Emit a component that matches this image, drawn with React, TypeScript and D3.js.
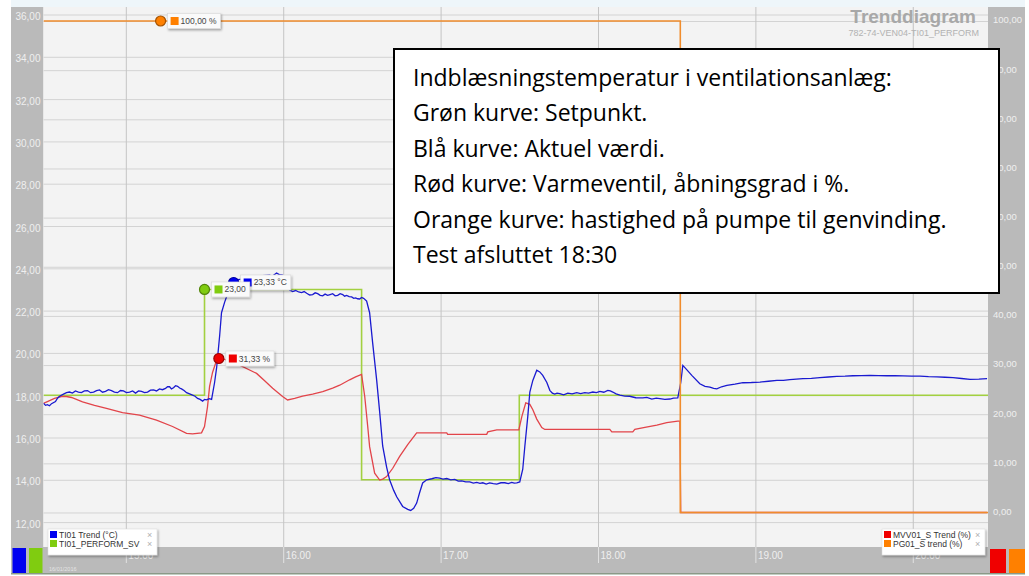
import React, { useEffect, useRef } from 'react';
import * as d3 from 'd3';

const W = 1029;
const H = 576;

// time is hour of day (decimal), 16/01/2016
const hourTicks = [15, 16, 17, 18, 19, 20];
const tempTicks = [12, 14, 16, 18, 20, 22, 24, 26, 28, 30, 32, 34, 36];
const pctTicks = [0, 10, 20, 30, 40, 50, 60, 70, 80, 90, 100];

// TI01 Trend (°C)
const tempTrend: [number, number][] = [
  [14.477, 17.62], [14.49, 17.52], [14.502, 17.55], [14.515, 17.5], [14.528, 17.6], [14.553, 17.7],
  [14.566, 17.86], [14.579, 17.95], [14.604, 18.05], [14.623, 18.12], [14.642, 18.15], [14.661, 18.1],
  [14.68, 18.2], [14.699, 18.15], [14.718, 18.12], [14.737, 18.2], [14.757, 18.22], [14.776, 18.12],
  [14.795, 18.15], [14.814, 18.22], [14.833, 18.25], [14.852, 18.14], [14.871, 18.18], [14.89, 18.26],
  [14.909, 18.22], [14.928, 18.15], [14.947, 18.12], [14.966, 18.22], [14.985, 18.2], [15.004, 18.12],
  [15.024, 18.15], [15.043, 18.2], [15.062, 18.1], [15.081, 18.2], [15.1, 18.18], [15.119, 18.12],
  [15.138, 18.15], [15.157, 18.24], [15.176, 18.25], [15.195, 18.2], [15.214, 18.3], [15.233, 18.26],
  [15.252, 18.32], [15.265, 18.4], [15.278, 18.4], [15.29, 18.3], [15.303, 18.35], [15.316, 18.45],
  [15.329, 18.42], [15.342, 18.34], [15.354, 18.3], [15.37, 18.22], [15.386, 18.12], [15.405, 18.06],
  [15.424, 18.0], [15.44, 17.95], [15.456, 17.85], [15.472, 17.8], [15.488, 17.72], [15.5, 17.8],
  [15.513, 17.78], [15.53, 17.84], [15.545, 17.8], [15.564, 18.6], [15.577, 19.3], [15.596, 20.8],
  [15.608, 21.9], [15.628, 22.4], [15.647, 22.8], [15.672, 23.37], [15.697, 23.45], [15.755, 23.5],
  [15.818, 23.55], [15.869, 23.65], [15.914, 23.68], [15.93, 23.62], [15.958, 23.78], [15.975, 23.7],
  [15.996, 23.68], [16.01, 23.5], [16.022, 23.2], [16.041, 22.97], [16.06, 22.9], [16.079, 22.95],
  [16.098, 22.88], [16.117, 22.85], [16.133, 22.9], [16.149, 22.82], [16.168, 22.74], [16.187, 22.76],
  [16.203, 22.84], [16.219, 22.8], [16.235, 22.72], [16.251, 22.7], [16.266, 22.78], [16.282, 22.72],
  [16.298, 22.76], [16.314, 22.8], [16.33, 22.7], [16.346, 22.72], [16.362, 22.8], [16.378, 22.76],
  [16.39, 22.68], [16.403, 22.72], [16.419, 22.66], [16.435, 22.65], [16.448, 22.58], [16.46, 22.6],
  [16.473, 22.56], [16.486, 22.55], [16.498, 22.62], [16.511, 22.58], [16.53, 22.45], [16.549, 21.9],
  [16.568, 20.5], [16.594, 18.7], [16.613, 17.2], [16.632, 15.6], [16.657, 14.6], [16.676, 14.0],
  [16.702, 13.5], [16.721, 13.2], [16.759, 12.74], [16.791, 12.6], [16.81, 12.55], [16.829, 12.65],
  [16.848, 12.9], [16.867, 13.4], [16.886, 13.85], [16.912, 14.0], [16.944, 14.05], [16.97, 14.1],
  [16.994, 14.08], [17.015, 14.03], [17.039, 14.06], [17.065, 14.0], [17.09, 14.02], [17.112, 13.94],
  [17.134, 13.95], [17.16, 13.9], [17.185, 13.9], [17.208, 13.84], [17.23, 13.88], [17.25, 13.83],
  [17.268, 13.86], [17.29, 13.8], [17.312, 13.85], [17.335, 13.82], [17.357, 13.8], [17.383, 13.86],
  [17.408, 13.86], [17.43, 13.82], [17.452, 13.88], [17.468, 13.84], [17.484, 13.85], [17.503, 13.9],
  [17.522, 14.5], [17.535, 15.56], [17.554, 17.0], [17.567, 18.15], [17.586, 18.7], [17.611, 19.18],
  [17.63, 19.1], [17.649, 18.94], [17.675, 18.6], [17.694, 18.23], [17.71, 18.1], [17.725, 18.05],
  [17.74, 18.1], [17.757, 18.08], [17.782, 18.02], [17.808, 18.1], [17.836, 18.06], [17.865, 18.12],
  [17.89, 18.08], [17.916, 18.12], [17.94, 18.1], [17.967, 18.15], [17.99, 18.12], [18.012, 18.18],
  [18.037, 18.14], [18.062, 18.23], [18.078, 18.2], [18.094, 18.15], [18.115, 18.06], [18.139, 18.0],
  [18.17, 17.96], [18.202, 17.95], [18.24, 17.88], [18.285, 17.87], [18.31, 17.9], [18.342, 17.82],
  [18.37, 17.86], [18.393, 17.84], [18.425, 17.8], [18.457, 17.82], [18.48, 17.86], [18.507, 17.87],
  [18.526, 18.6], [18.539, 19.41], [18.565, 19.2], [18.596, 18.94], [18.647, 18.54], [18.68, 18.42],
  [18.711, 18.38], [18.735, 18.32], [18.755, 18.3], [18.785, 18.4], [18.819, 18.46], [18.87, 18.52],
  [18.921, 18.59], [18.975, 18.6], [19.029, 18.62], [19.083, 18.66], [19.137, 18.7], [19.178, 18.7],
  [19.219, 18.74], [19.26, 18.76], [19.302, 18.78], [19.356, 18.8], [19.41, 18.83], [19.464, 18.86],
  [19.518, 18.89], [19.57, 18.9], [19.62, 18.92], [19.674, 18.93], [19.728, 18.94], [19.782, 18.93],
  [19.836, 18.92], [19.887, 18.92], [19.938, 18.91], [19.992, 18.9], [20.046, 18.9], [20.1, 18.88],
  [20.154, 18.87], [20.205, 18.85], [20.256, 18.83], [20.31, 18.79], [20.364, 18.75], [20.42, 18.76],
  [20.472, 18.78],
];

// TI01_PERFORM_SV (°C), steps
const tempSetpoint: [number, number][] = [
  [14.477, 18], [15.5, 23], [16.498, 14], [17.5, 18], [20.478, 18],
];

// MVV01_S Trend (%)
const valveTrend: [number, number][] = [
  [14.477, 22.2], [14.547, 23.2], [14.591, 23.6], [14.623, 23.6], [14.655, 23.4], [14.725, 22.5],
  [14.801, 21.8], [14.877, 21.2], [14.979, 20.3], [15.087, 19.8], [15.195, 18.8], [15.297, 17.5],
  [15.386, 16.1], [15.424, 16.0], [15.481, 16.2], [15.5, 17.5], [15.519, 21.5], [15.532, 25.6],
  [15.551, 28.5], [15.577, 31.0], [15.596, 31.5], [15.659, 30.8], [15.723, 30.0], [15.831, 28.3],
  [15.882, 26.8], [15.933, 25.3], [15.996, 23.6], [16.028, 22.9], [16.073, 23.2], [16.123, 23.7],
  [16.187, 24.1], [16.251, 24.6], [16.314, 25.3], [16.359, 25.9], [16.422, 27.0], [16.46, 27.6],
  [16.498, 28.1], [16.518, 23.6], [16.537, 17.5], [16.549, 13.4], [16.581, 8.0], [16.613, 6.6],
  [16.632, 6.8], [16.657, 7.3], [16.696, 9.0], [16.74, 11.4], [16.791, 13.8], [16.848, 16.2],
  [17.039, 16.2], [17.045, 15.9], [17.293, 15.9], [17.3, 16.4], [17.357, 16.8], [17.497, 16.8],
  [17.516, 19.5], [17.541, 22.3], [17.567, 22.0], [17.586, 20.9], [17.611, 19.0], [17.643, 17.3],
  [17.662, 16.9], [18.075, 16.9], [18.088, 16.4], [18.221, 16.4], [18.234, 16.9], [18.298, 17.3],
  [18.374, 17.8], [18.437, 18.3], [18.507, 18.6], [18.52, 18.6], [18.526, 0], [20.472, 0],
];

// PG01_S trend (%), steps
const pumpTrend: [number, number][] = [
  [14.477, 100], [18.523, 0], [20.478, 0],
];

// cursor read-outs shown on the chart
const cursorValues = [
  { series: 'pump', hour: 15.221, value: 100, text: '100,00 %' },
  { series: 'valve', hour: 15.591, value: 31.33, text: '31,33 %' },
  { series: 'temp', hour: 15.685, value: 23.33, text: '23,33 °C' },
  { series: 'sp', hour: 15.5, value: 23, text: '23,00' },
];

const leftLegend = ['TI01 Trend (°C)', 'TI01_PERFORM_SV'];
const rightLegend = ['MVV01_S Trend (%)', 'PG01_S trend (%)'];

const noteLines = [
  'Indblæsningstemperatur i ventilationsanlæg:',
  'Grøn kurve: Setpunkt.',
  'Blå kurve: Aktuel værdi.',
  'Rød kurve: Varmeventil, åbningsgrad i %.',
  'Orange kurve: hastighed på pumpe til genvinding.',
  'Test afsluttet 18:30',
];

const colors: any = {
  temp: '#1a1ad0',
  sp: '#a2d040',
  valve: '#e2444a',
  pump: '#f08c2c',
};
const swatch: any = {
  temp: '#0000f0',
  sp: '#80cc10',
  valve: '#f00000',
  pump: '#ff8000',
};

function drawChart(el: SVGSVGElement) {
  const svg = d3.select(el);
  svg.selectAll('*').remove();

  const m = { left: 43.5, right: 988, top: 7, bottom: 547 };
  const x = d3.scaleLinear().domain([14.477, 20.478]).range([m.left, m.right]);
  const yT = d3.scaleLinear().domain([10.823, 36.355]).range([m.bottom, m.top]);
  const yP = d3.scaleLinear().domain([-7.02, 102.85]).range([m.bottom, m.top]);
  const font = 'Liberation Sans, Arial, sans-serif';

  const defs = svg.append('defs');
  defs.append('clipPath').attr('id', 'plotclip')
    .append('rect').attr('x', m.left).attr('y', m.top)
    .attr('width', m.right - m.left).attr('height', m.bottom - m.top);
  const f = defs.append('filter').attr('id', 'shadow')
    .attr('x', '-20%').attr('y', '-40%').attr('width', '140%').attr('height', '180%');
  f.append('feDropShadow').attr('dx', 1).attr('dy', 1.5).attr('stdDeviation', 1.2)
    .attr('flood-color', '#000').attr('flood-opacity', 0.35);

  // page + bands
  svg.append('rect').attr('width', W).attr('height', H).attr('fill', '#ffffff');
  svg.append('rect').attr('x', 11).attr('y', 0).attr('width', 1014).attr('height', 7).attr('fill', '#eef6fa');
  svg.append('rect').attr('x', 11).attr('y', m.top).attr('width', m.left - 11).attr('height', 573 - m.top).attr('fill', '#bababa');
  svg.append('rect').attr('x', m.right).attr('y', m.top).attr('width', 1025 - m.right).attr('height', 573 - m.top).attr('fill', '#bababa');
  svg.append('rect').attr('x', 11).attr('y', m.bottom).attr('width', 1014).attr('height', 26).attr('fill', '#bababa');
  svg.append('rect').attr('x', 11).attr('y', 573).attr('width', 1014).attr('height', 1.5).attr('fill', '#8a9a88');
  svg.append('rect').attr('x', m.left).attr('y', m.top)
    .attr('width', m.right - m.left).attr('height', m.bottom - m.top).attr('fill', '#f3f3f3');

  // axes with grid lines
  const styleAxis = (g: any) => {
    g.select('.domain').remove();
    g.selectAll('line').attr('stroke', '#d3d3d3');
    g.selectAll('text').attr('fill', '#efefef').attr('font-size', 10).attr('font-family', font);
  };
  const comma = (d: any) => d3.format('.2f')(d).replace('.', ',');

  svg.append('g').attr('transform', `translate(${m.left},0)`)
    .call(d3.axisLeft(yT).tickValues(tempTicks).tickSize(-(m.right - m.left)).tickPadding(3).tickFormat(comma))
    .call(styleAxis)
    .call((g: any) => g.selectAll('text').attr('dy', '0.5em'));

  svg.append('g').attr('transform', `translate(${m.right},0)`)
    .call(d3.axisRight(yP).tickValues(pctTicks).tickSize(-(m.right - m.left)).tickPadding(5).tickFormat(comma))
    .call(styleAxis)
    .call((g: any) => g.selectAll('text').attr('font-size', 9.5).attr('dy', '0.2em'));

  svg.append('g').attr('transform', `translate(0,${m.bottom})`)
    .call(d3.axisBottom(x).tickValues(hourTicks).tickSize(-(m.bottom - m.top)).tickFormat(() => ''))
    .call(styleAxis)
    .call((g: any) => g.selectAll('line').attr('stroke', '#c4c4c4'));

  svg.append('g').attr('transform', `translate(0,${m.bottom})`)
    .call(d3.axisBottom(x).tickValues(hourTicks).tickSize(16).tickFormat((d: any) => `${d}.00`))
    .call(styleAxis)
    .call((g: any) => {
      g.selectAll('line').attr('stroke', '#e2e2e2');
      g.selectAll('text').attr('text-anchor', 'start').attr('x', 2).attr('y', 5);
    });

  // series
  const plot = svg.append('g').attr('clip-path', 'url(#plotclip)');
  const lineT = d3.line<[number, number]>().x(d => x(d[0])).y(d => yT(d[1]));
  const lineP = d3.line<[number, number]>().x(d => x(d[0])).y(d => yP(d[1]));

  plot.append('path').attr('d', lineT.curve(d3.curveStepAfter)(tempSetpoint) as string)
    .attr('fill', 'none').attr('stroke', colors.sp).attr('stroke-width', 1.6);
  plot.append('path').attr('d', lineP.curve(d3.curveLinear)(valveTrend) as string)
    .attr('fill', 'none').attr('stroke', colors.valve).attr('stroke-width', 1.3);
  plot.append('path').attr('d', lineT.curve(d3.curveLinear)(tempTrend) as string)
    .attr('fill', 'none').attr('stroke', colors.temp).attr('stroke-width', 1.3);
  plot.append('path').attr('d', lineP.curve(d3.curveStepAfter)(pumpTrend) as string)
    .attr('fill', 'none').attr('stroke', colors.pump).attr('stroke-width', 1.6);

  // cursor markers
  const pos = (c: any) => [x(c.hour), c.series === 'valve' || c.series === 'pump' ? yP(c.value) : yT(c.value)];
  cursorValues.forEach(c => {
    const [cx, cy] = pos(c);
    svg.append('circle').attr('cx', cx).attr('cy', cy).attr('r', 5)
      .attr('fill', swatch[c.series]).attr('stroke', d3.color(swatch[c.series])!.darker(1.2).toString())
      .attr('stroke-width', 1.2);
  });
  cursorValues.forEach(c => {
    const [cx, cy] = pos(c);
    const g = svg.append('g').attr('transform', `translate(${cx + 7},${cy})`);
    const box = g.append('rect').attr('x', 0).attr('y', -7.5).attr('height', 15)
      .attr('fill', '#fafafa').attr('stroke', '#d8d8d8').attr('stroke-width', 0.6)
      .attr('filter', 'url(#shadow)');
    g.append('rect').attr('x', 3).attr('y', -4).attr('width', 8).attr('height', 8).attr('fill', swatch[c.series]);
    const t = g.append('text').attr('x', 13).attr('y', 3).text(c.text)
      .attr('font-family', font).attr('font-size', 8.5).attr('fill', '#444');
    const tw = (t.node() as SVGTextElement).getComputedTextLength();
    box.attr('width', tw + 17);
  });

  // legends
  const legend = (x0: number, wd: number, items: string[], keys: string[]) => {
    const g = svg.append('g').attr('transform', `translate(${x0},529)`);
    g.append('rect').attr('width', wd).attr('height', 26).attr('fill', '#ffffff')
      .attr('stroke', '#dddddd').attr('stroke-width', 0.6).attr('filter', 'url(#shadow)');
    items.forEach((s, i) => {
      const cy = 5.5 + i * 9;
      g.append('rect').attr('x', 2).attr('y', cy - 3.5).attr('width', 7).attr('height', 7).attr('fill', swatch[keys[i]]);
      g.append('text').attr('x', 11).attr('y', cy + 3).text(s)
        .attr('font-family', font).attr('font-size', 8.5).attr('fill', '#333');
      g.append('text').attr('x', wd - 10).attr('y', cy + 3).text('×')
        .attr('font-family', font).attr('font-size', 9).attr('fill', '#b0b0b0');
    });
  };
  legend(48, 109, leftLegend, ['temp', 'sp']);
  legend(882, 103, rightLegend, ['valve', 'pump']);

  // colour tabs in corners
  svg.append('rect').attr('x', 12.5).attr('y', 548).attr('width', 13.5).attr('height', 25).attr('fill', swatch.temp);
  svg.append('rect').attr('x', 29).attr('y', 548).attr('width', 13.5).attr('height', 25).attr('fill', swatch.sp);
  svg.append('rect').attr('x', 990).attr('y', 549).attr('width', 16).attr('height', 24).attr('fill', swatch.valve);
  svg.append('rect').attr('x', 1009).attr('y', 549).attr('width', 16).attr('height', 24).attr('fill', swatch.pump);
  svg.append('text').attr('x', 49).attr('y', 571).text('16/01/2016')
    .attr('font-family', font).attr('font-size', 5.5).attr('fill', '#e4e4e4');

  // title
  svg.append('text').attr('x', 976).attr('y', 23).attr('text-anchor', 'end').text('Trenddiagram')
    .attr('font-family', font).attr('font-weight', 'bold').attr('font-size', 19).attr('fill', '#a8a8a8');
  svg.append('text').attr('x', 979).attr('y', 36).attr('text-anchor', 'end').text('782-74-VEN04-TI01_PERFORM')
    .attr('font-family', font).attr('font-size', 9).attr('fill', '#b2b2b2');

  // note box
  svg.append('rect').attr('x', 394).attr('y', 49).attr('width', 605).attr('height', 244)
    .attr('fill', '#ffffff').attr('stroke', '#000').attr('stroke-width', 2);
  noteLines.forEach((s, i) => {
    svg.append('text').attr('x', 413).attr('y', 86 + i * 35.4).text(s)
      .attr('font-family', '"Open Sans", sans-serif').attr('font-size', 23).attr('fill', '#000');
  });
}

export default function App() {
  const ref = useRef<SVGSVGElement>(null);
  useEffect(() => {
    if (ref.current) drawChart(ref.current);
  }, []);
  return (
    <svg ref={ref} width={W} height={H}
      style={{ position: 'absolute', left: 0, top: 0, display: 'block' }} />
  );
}
